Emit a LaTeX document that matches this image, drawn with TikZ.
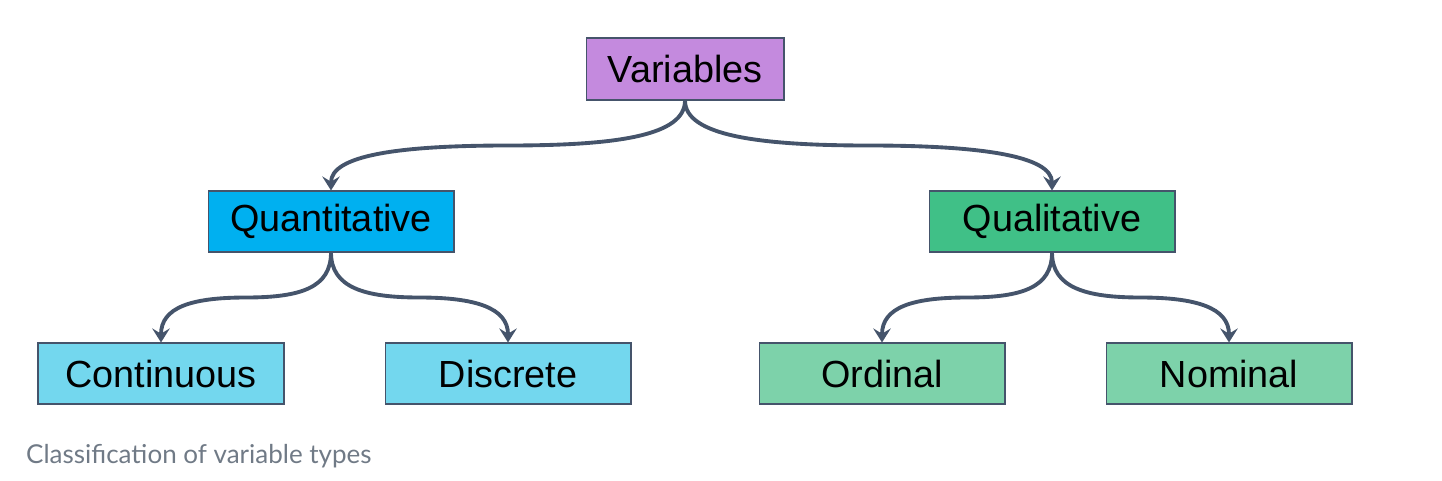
\documentclass[tikz,border=0pt]{standalone}
\usepackage{fontspec}
\setmainfont{Liberation Sans}
\newfontfamily\capfont{Lato}
\usetikzlibrary{arrows.meta, positioning, calc}
\definecolor{edgeslate}{RGB}{69, 84, 107}
\definecolor{rootpurple}{RGB}{196, 138, 222}
\definecolor{quantblue}{RGB}{0, 176, 240}
\definecolor{qualgreen}{RGB}{64, 192, 135}
\definecolor{lightcyan}{RGB}{115, 215, 238}
\definecolor{lightgreen}{RGB}{125, 210, 170}
\definecolor{captiongray}{RGB}{112, 122, 134}
\tikzset{
  typebox/.style={rectangle, draw=edgeslate, line width=0.6pt, minimum width=4.92cm, minimum height=1.22cm, text centered, font=\fontsize{21.5}{24}\selectfont},
  rootbox/.style={typebox, fill=rootpurple, minimum width=3.96cm, minimum height=1.24cm},
  branch/.style={draw=edgeslate, line width=2.2pt, -{Stealth[length=8pt, width=10pt, inset=3pt]}}
}
% #1 source, #2 target, #3 horizontal pull at the middle (+ going left, - going right)
\newcommand{\branchto}[3]{%
  \coordinate (#1-#2-mid) at ($(#1.south)!0.5!(#2.north)$);
  \draw[branch] (#1.south) .. controls +(0,35) and +(#3,0) .. (#1-#2-mid)
                .. controls +({-(#3)},0) and +(0,-35) .. (#2.north);}

\begin{document}
\begin{tikzpicture}[x=0.02cm, y=-0.02cm]
    \useasboundingbox (0, 0) rectangle (1442, 480);

    % Root
    \node[rootbox] (vars) at (685, 69) {Variables};

    % Second level
    \node[typebox, fill=quantblue] (quant) at (331, 221.5) {Quantitative};
    \node[typebox, fill=qualgreen] (qual) at (1052, 221.5) {Qualitative};

    % Leaves
    \node[typebox, fill=lightcyan] (cont) at (161, 373.5) {Continuous};
    \node[typebox, fill=lightcyan] (disc) at (508, 373.5) {Discrete};
    \node[typebox, fill=lightgreen] (ord) at (882, 373.5) {Ordinal};
    \node[typebox, fill=lightgreen] (nom) at (1229, 373.5) {Nominal};

    % Connectors
    \branchto{vars}{quant}{110}
    \branchto{vars}{qual}{-110}
    \branchto{quant}{cont}{55}
    \branchto{quant}{disc}{-55}
    \branchto{qual}{ord}{55}
    \branchto{qual}{nom}{-55}

    % Caption
    \node[anchor=west, text=captiongray, font=\capfont\fontsize{14.8}{17}\selectfont] (caption) at (20, 456) {Classification of variable types};
\end{tikzpicture}
\end{document}
